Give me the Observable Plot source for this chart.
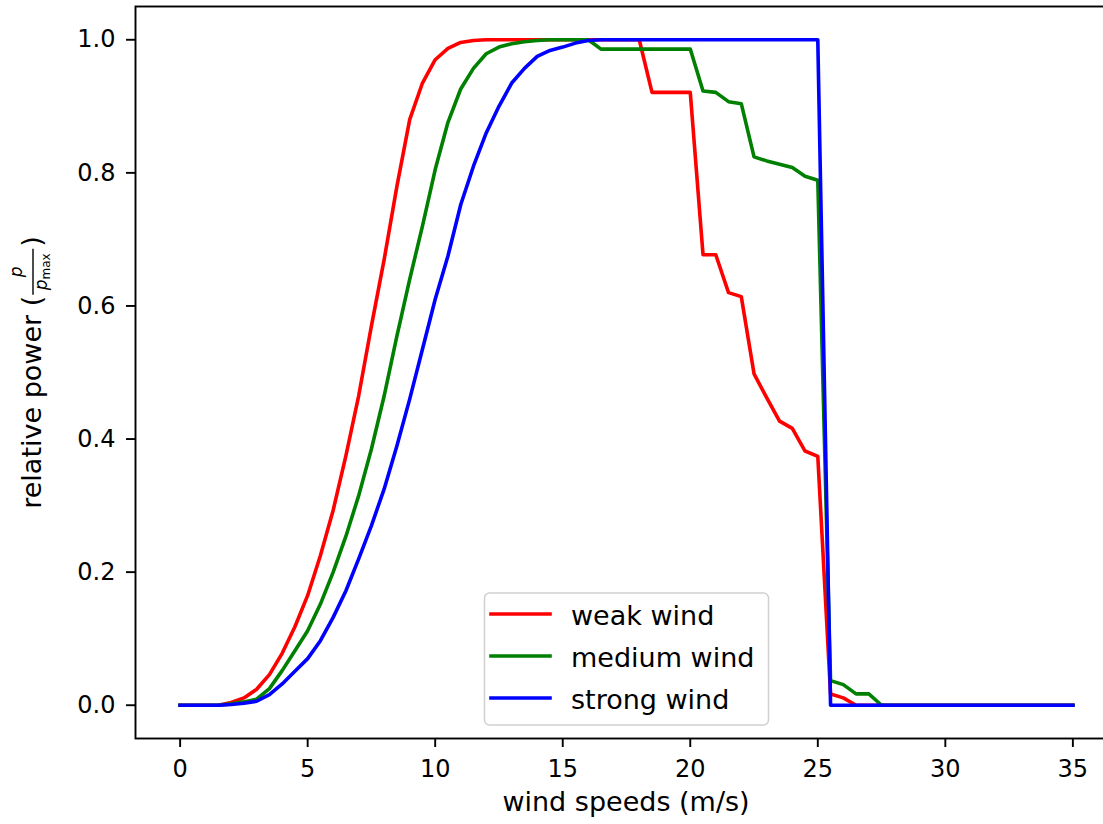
<!DOCTYPE html>
<html><head><meta charset="utf-8">
<script src="https://cdn.jsdelivr.net/npm/d3@7"></script>
<script src="https://cdn.jsdelivr.net/npm/@observablehq/plot@0.6"></script>
<style>
html,body{margin:0;padding:0;background:#fff;overflow:hidden;}
#chart{position:relative;width:1103px;height:824px;overflow:hidden;}
#chart svg{max-width:none !important;}
</style></head><body><div id="chart"></div>
<script>
const windSpeeds = [0,0.5,1,1.5,2,2.5,3,3.5,4,4.5,5,5.5,6,6.5,7,7.5,8,8.5,9,9.5,10,10.5,11,11.5,12,12.5,13,13.5,14,14.5,15,15.5,16,16.5,17,17.5,18,18.5,19,19.5,20,20.5,21,21.5,22,22.5,23,23.5,24,24.5,25,25.5,26,26.5,27,27.5,28,28.5,29,29.5,30,30.5,31,31.5,32,32.5,33,33.5,34,34.5,35];
const weakWind = [0,0,0,0,0.004,0.011,0.024,0.046,0.078,0.118,0.165,0.225,0.293,0.375,0.465,0.57,0.67,0.78,0.88,0.935,0.97,0.987,0.996,0.999,1,1,1,1,1,1,1,1,1,1,1,1,1,0.921,0.921,0.921,0.921,0.677,0.677,0.62,0.614,0.498,0.462,0.427,0.416,0.382,0.374,0.017,0.011,0,0,0,0,0,0,0,0,0,0,0,0,0,0,0,0,0,0];
const mediumWind = [0,0,0,0,0.002,0.005,0.009,0.025,0.052,0.082,0.112,0.152,0.2,0.254,0.315,0.385,0.465,0.555,0.64,0.72,0.805,0.876,0.926,0.957,0.979,0.989,0.994,0.997,0.999,1,1,1,1,0.986,0.986,0.986,0.986,0.986,0.986,0.986,0.986,0.923,0.921,0.907,0.904,0.824,0.818,0.813,0.808,0.795,0.789,0.037,0.031,0.017,0.017,0,0,0,0,0,0,0,0,0,0,0,0,0,0,0,0];
const strongWind = [0,0,0,0,0.001,0.003,0.006,0.016,0.032,0.051,0.07,0.097,0.132,0.172,0.22,0.27,0.325,0.39,0.46,0.535,0.61,0.675,0.752,0.81,0.86,0.9,0.935,0.957,0.975,0.984,0.989,0.995,0.999,1,1,1,1,1,1,1,1,1,1,1,1,1,1,1,1,1,1,0,0,0,0,0,0,0,0,0,0,0,0,0,0,0,0,0,0,0,0];
const seriesNames = ["weak wind", "medium wind", "strong wind"];
const seriesColors = ["#ff0000", "#008000", "#0000ff"];
const xTicks = [0, 5, 10, 15, 20, 25, 30, 35];
const yTicks = [0, 0.2, 0.4, 0.6, 0.8, 1.0];
const xLabel = "wind speeds (m/s)";
const yLabelMain = "relative power (";

const rows = [];
[weakWind, mediumWind, strongWind].forEach((vals, k) =>
  vals.forEach((p, i) => rows.push({series: seriesNames[k], v: windSpeeds[i], p})));

const plot = Plot.plot({
  width: 1118, height: 824,
  marginLeft: 135, marginRight: 1, marginTop: 6, marginBottom: 86,
  style: {fontFamily: "DejaVu Sans", background: "#fff", color: "#000", maxWidth: "none"},
  x: {domain: [-1.75, 36.75]},
  y: {domain: [-0.05, 1.05]},
  color: {domain: seriesNames, range: seriesColors},
  marks: [
    Plot.axisX({ticks: xTicks, tickSize: 9, tickPadding: 12, fontSize: 24, strokeWidth: 1.9, label: null, tickFormat: d => String(d)}),
    Plot.axisY({ticks: yTicks, tickSize: 9, tickPadding: 11, fontSize: 24, strokeWidth: 1.9, label: null, tickFormat: d3.format(".1f")}),
    Plot.line(rows, {x: "v", y: "p", stroke: "series", z: "series", strokeWidth: 3.6, strokeLinejoin: "round", strokeLinecap: "square"}),
    Plot.frame({stroke: "#000", strokeWidth: 1.9})
  ]
});
plot.style.maxWidth = "none";
document.getElementById("chart").appendChild(plot);

const svg = d3.select(plot);
// x label
svg.append("text").attr("x", 626).attr("y", 811).attr("text-anchor", "middle")
  .attr("font-size", 27).attr("fill", "#000").text(xLabel);

// y label with fraction
const g = svg.append("g").attr("transform", "translate(41,372) rotate(-90)")
  .attr("font-size", 27).attr("fill", "#000").attr("text-anchor", "start");
const mainT = g.append("text").attr("x", 0).attr("y", 0).attr("text-anchor", "start").text(yLabelMain);
const mainLen = mainT.node().getComputedTextLength();
const fracW = 48;
const closeT = g.append("text").attr("y", 0).attr("text-anchor", "start").text(")");
const closeLen = closeT.node().getComputedTextLength();
const total = mainLen + fracW + closeLen;
const start = -total / 2 - 1;
mainT.attr("x", start);
const fx = start + mainLen + 1;
g.append("line").attr("x1", fx).attr("x2", fx + fracW - 2).attr("y1", -8).attr("y2", -8)
  .attr("stroke", "#000").attr("stroke-width", 1.4);
g.append("text").attr("x", fx + fracW / 2 - 1).attr("y", -19).attr("text-anchor", "middle")
  .attr("font-size", 17).attr("font-style", "italic").text("p");
const den = g.append("text").attr("x", fx + fracW / 2 - 1).attr("y", 6).attr("text-anchor", "middle").attr("font-size", 17);
den.append("tspan").attr("font-style", "italic").text("p");
den.append("tspan").attr("font-size", 12).attr("dy", 3).text("max");
closeT.attr("x", fx + fracW);

// legend
const lg = svg.append("g").attr("text-anchor", "start");
lg.append("rect").attr("x", 484.5).attr("y", 593).attr("width", 284).attr("height", 132).attr("rx", 5)
  .attr("fill", "#fff").attr("fill-opacity", 0.8).attr("stroke", "#d0d0d0").attr("stroke-width", 1.5);
seriesNames.forEach((name, k) => {
  const cy = 614 + k * 42;
  lg.append("line").attr("x1", 491).attr("x2", 550).attr("y1", cy).attr("y2", cy)
    .attr("stroke", seriesColors[k]).attr("stroke-width", 3.6).attr("stroke-linecap", "square");
  lg.append("text").attr("x", 571).attr("y", cy + 11).attr("text-anchor", "start")
    .attr("font-size", 27).attr("fill", "#000").text(name);
});
</script></body></html>
